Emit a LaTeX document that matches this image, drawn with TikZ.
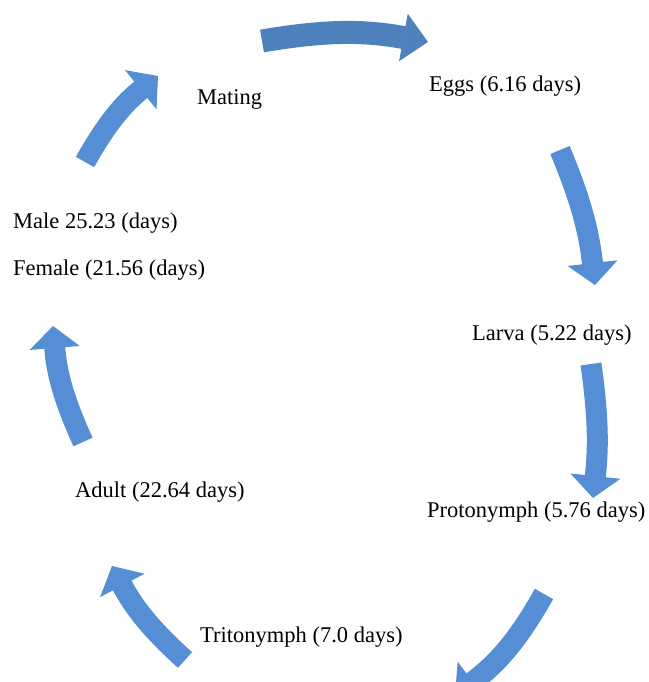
\documentclass[tikz,border=0pt]{standalone}
\usepackage{fontspec}
\setmainfont{Liberation Serif}
\usetikzlibrary{arrows.meta}
\definecolor{cycdark}{HTML}{4F81BD}
\definecolor{cyclight}{HTML}{558ED5}
\begin{document}
\begin{tikzpicture}[x=1pt,y=-1pt,stage node/.style={anchor=base west,inner sep=0pt,font=\fontsize{22.5}{27}\selectfont},
        cycle arrow/.style={line width=21pt,draw=cyclight,-{Triangle[width=50pt,length=22pt,line width=1.5pt]}}]
        \useasboundingbox (0,0) rectangle (648,682);
        \clip (0,0) rectangle (648,682);

        \node[stage node] at (197,105) (mating) {Mating};
        \node[stage node] at (429,92) (eggs) {Eggs (6.16 days)};
        \node[stage node] at (13,228) (male) {Male 25.23 (days)};
        \node[stage node] at (13,275) (female) {Female (21.56 (days)};
        \node[stage node] at (472,340) (larva) {Larva (5.22 days)};
        \node[stage node] at (427,517) (proto) {Protonymph (5.76 days)};
        \node[stage node] at (75,497) (adult) {Adult (22.64 days)};
        \node[stage node] at (200,642) (trito) {Tritonymph (7.0 days)};

        \coordinate (a1) at (262,41);  \coordinate (b1) at (428,42);
        \coordinate (a2) at (560,150); \coordinate (b2) at (595,285);
        \coordinate (a3) at (591,364); \coordinate (b3) at (593,498);
        \coordinate (a4) at (544,594); \coordinate (b4) at (455,695);
        \coordinate (a5) at (185,660); \coordinate (b5) at (112,566);
        \coordinate (a6) at (83,442);  \coordinate (b6) at (53,326);
        \coordinate (a7) at (85,162);  \coordinate (b7) at (158,76);

        \path
            (a1) edge[cycle arrow, draw=cycdark, line width=23pt, bend left=10,
                      -{Triangle[width=48pt,length=25pt,line width=1.5pt]}] (b1)
            (a2) edge[cycle arrow, bend left=8] (b2)
            (a3) edge[cycle arrow, bend left=7] (b3)
            (a4) edge[cycle arrow, bend left=12] (b4)
            (a5) edge[cycle arrow, bend left=10] (b5)
            (a6) edge[cycle arrow, bend left=10] (b6)
            (a7) edge[cycle arrow, bend left=11] (b7)
            ;
\end{tikzpicture}
\end{document}
